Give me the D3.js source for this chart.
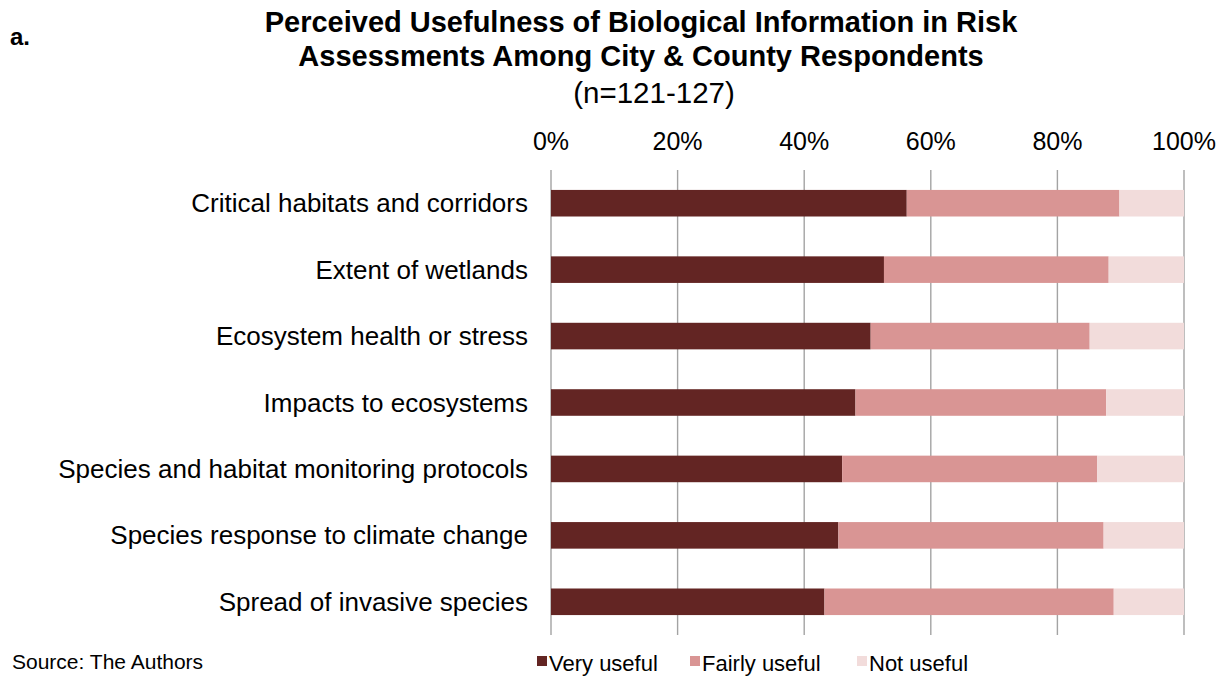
<!DOCTYPE html>
<html>
<head>
<meta charset="utf-8">
<script src="https://cdn.jsdelivr.net/npm/d3@7"></script>
<style>
  body { margin: 0; background: #fff; }
  svg { font-family: "Liberation Sans", Arial, sans-serif; display: block; }
</style>
</head>
<body>
<svg id="chart"></svg>
<script>
const categories = [
    "Critical habitats and corridors",
    "Extent of wetlands",
    "Ecosystem health or stress",
    "Impacts to ecosystems",
    "Species and habitat monitoring protocols",
    "Species response to climate change",
    "Spread of invasive species"
];
const seriesNames = ["Very useful", "Fairly useful", "Not useful"];
const veryUseful   = [56.2, 52.6, 50.5, 48.1, 46.0, 45.4, 43.2];
const fairlyUseful = [33.6, 35.5, 34.6, 39.6, 40.3, 41.9, 45.7];
const notUseful    = [10.2, 11.9, 14.9, 12.3, 13.7, 12.7, 11.1];
const tickValues = [0, 20, 40, 60, 80, 100];
const colors = ["#632523", "#d99594", "#f2dcdb"];

const width = 1222, height = 679;
const plot = {left: 551, right: 1184, top: 170, bottom: 635};

const svg = d3.select("#chart")
    .attr("width", width)
    .attr("height", height);

const rows = categories.map((c, i) => ({
    category: c,
    "Very useful": veryUseful[i],
    "Fairly useful": fairlyUseful[i],
    "Not useful": notUseful[i]
}));

const stacked = d3.stack().keys(seriesNames)(rows);

const x = d3.scaleLinear().domain([0, 100]).range([plot.left, plot.right]);
const y = d3.scaleBand()
    .domain(categories)
    .range([plot.top, plot.bottom])
    .paddingInner(0.6)
    .paddingOuter(0.3);

// gridlines
svg.append("g")
    .selectAll("line")
    .data(tickValues)
    .join("line")
    .attr("x1", d => x(d))
    .attr("x2", d => x(d))
    .attr("y1", plot.top)
    .attr("y2", plot.bottom)
    .attr("stroke", "#a3a3a3")
    .attr("stroke-width", 1.4);

// bars
svg.append("g")
    .selectAll("g")
    .data(stacked)
    .join("g")
    .attr("fill", (d, i) => colors[i])
    .selectAll("rect")
    .data(d => d)
    .join("rect")
    .attr("x", d => x(d[0]))
    .attr("y", d => y(d.data.category))
    .attr("width", d => x(d[1]) - x(d[0]))
    .attr("height", y.bandwidth());

// top axis labels
svg.append("g")
    .selectAll("text")
    .data(tickValues)
    .join("text")
    .attr("x", d => x(d))
    .attr("y", 150)
    .attr("text-anchor", "middle")
    .style("font-size", "25px")
    .attr("fill", "#000")
    .text(d => `${d}%`);

// category labels
svg.append("g")
    .selectAll("text")
    .data(categories)
    .join("text")
    .attr("x", 528)
    .attr("y", d => y(d) + y.bandwidth() / 2)
    .attr("dy", "0.35em")
    .attr("text-anchor", "end")
    .style("font-size", "26px")
    .attr("fill", "#000")
    .text(d => d);

// titles
svg.append("text")
    .attr("x", 10).attr("y", 45)
    .style("font-size", "24px").style("font-weight", "bold")
    .text("a.");

const title = svg.append("text")
    .attr("text-anchor", "middle")
    .style("font-size", "29px")
    .style("font-weight", "bold");
title.append("tspan").attr("x", 641).attr("y", 32)
    .text("Perceived Usefulness of Biological Information in Risk");
title.append("tspan").attr("x", 641).attr("y", 66)
    .text("Assessments Among City & County Respondents");

svg.append("text")
    .attr("x", 654).attr("y", 103)
    .attr("text-anchor", "middle")
    .style("font-size", "29.5px")
    .text("(n=121-127)");

// source
svg.append("text")
    .attr("x", 12).attr("y", 669)
    .style("font-size", "21px")
    .text("Source: The Authors");

// legend
const legendX = [537, 690, 857];
const legend = svg.append("g")
    .selectAll("g")
    .data(seriesNames)
    .join("g")
    .attr("transform", (d, i) => `translate(${legendX[i]}, 671)`);
legend.append("rect")
    .attr("x", 0).attr("y", -15)
    .attr("width", 10).attr("height", 10)
    .attr("fill", (d, i) => colors[i]);
legend.append("text")
    .attr("x", 12).attr("y", 0)
    .style("font-size", "22px")
    .text(d => d);
</script>
</body>
</html>
